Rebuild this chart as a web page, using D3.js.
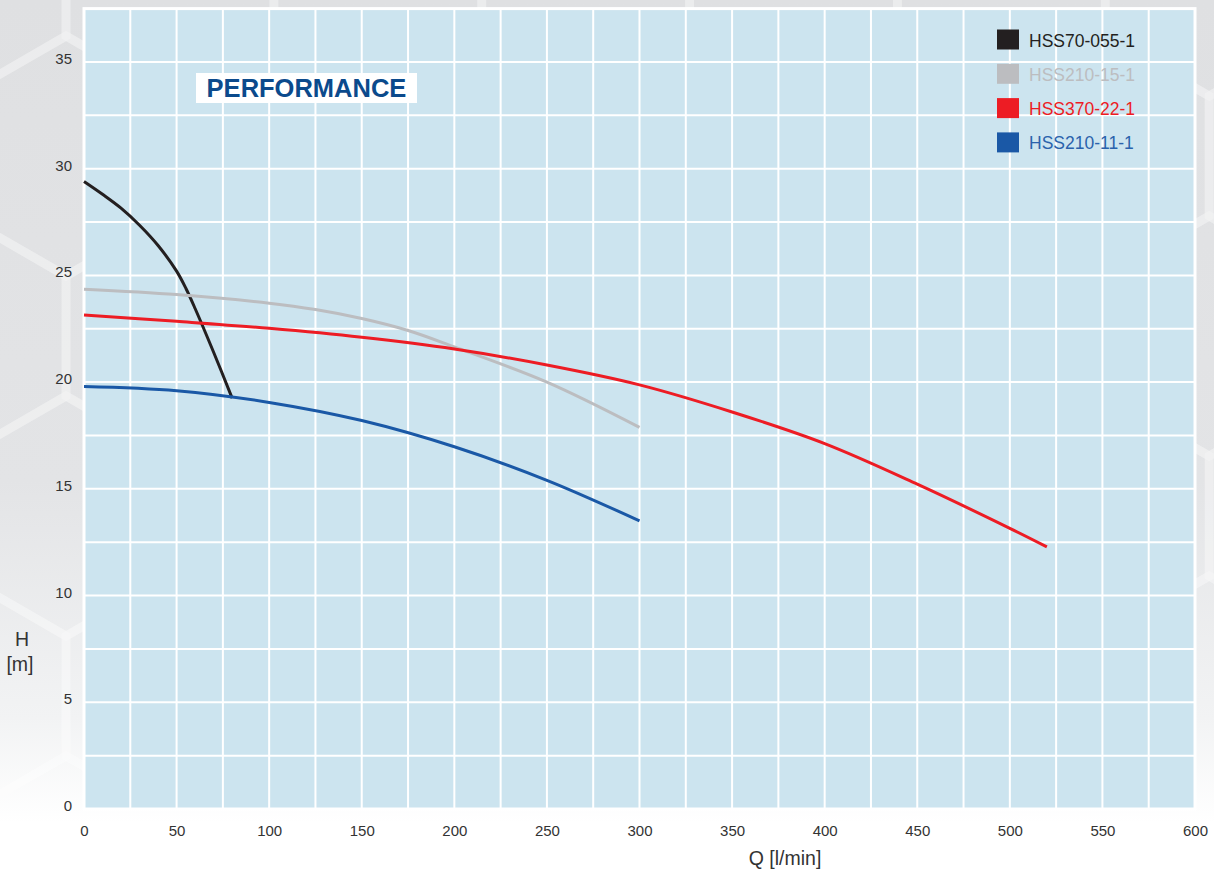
<!DOCTYPE html>
<html>
<head>
<meta charset="utf-8">
<script src="https://cdn.jsdelivr.net/npm/d3@7"></script>
<style>
  html, body { margin: 0; padding: 0; background: #fff; }
  svg { display: block; font-family: "Liberation Sans", Arial, sans-serif; }
</style>
</head>
<body>
<main></main>
<script>
// pump curves: [Q l/min, H m]
const hss70_055 = [[0, 29.4], [10, 28.8], [20, 28.15], [30, 27.35], [40, 26.4], [50, 25.2], [55, 24.4], [60, 23.45], [70, 21.4], [80, 19.25]];
const hss210_15 = [[0, 24.35], [50, 24.1], [100, 23.7], [125, 23.4], [150, 22.98], [175, 22.42], [200, 21.65], [250, 20.0], [300, 17.88]];
const hss370_22 = [[0, 23.15], [50, 22.85], [100, 22.52], [150, 22.1], [200, 21.55], [250, 20.8], [300, 19.87], [350, 18.6], [400, 17.12], [450, 15.22], [500, 13.15], [520, 12.28]];
const hss210_11 = [[0, 19.8], [50, 19.6], [100, 19.05], [150, 18.2], [200, 16.97], [250, 15.4], [300, 13.5]];

const seriesNames = ["HSS70-055-1", "HSS210-15-1", "HSS370-22-1", "HSS210-11-1"];
const seriesColors = ["#231f20", "#bcbdc0", "#ed1c24", "#1a58a6"];
const xTicks = [0, 50, 100, 150, 200, 250, 300, 350, 400, 450, 500, 550, 600];
const yTicks = [0, 5, 10, 15, 20, 25, 30, 35];

let drawChart = (w = 1214, h = 875) => {
	const margin = ({top: 8.6, right: 19, bottom: 66, left: 84});
	const series = [hss70_055, hss210_15, hss370_22, hss210_11];

	let x = d3.scaleLinear()
		.domain([0, 600])
		.range([margin.left, w - margin.right]);

	let y = d3.scaleLinear()
		.domain([0, 37.5])
		.range([h - margin.bottom, margin.top]);

	let svg = d3.select("main")
		.append("svg")
		.attr("width", w)
		.attr("height", h)
		.attr("viewBox", `0 0 ${w} ${h}`);

	// backdrop: grey fading to white with faint hexagons
	let grad = svg.append("defs").append("linearGradient")
		.attr("id", "bg").attr("x1", 0).attr("y1", 0).attr("x2", 0).attr("y2", 1);
	grad.append("stop").attr("offset", "0%").attr("stop-color", "#dfe0e2");
	grad.append("stop").attr("offset", "55%").attr("stop-color", "#e3e4e6");
	grad.append("stop").attr("offset", "82%").attr("stop-color", "#f2f3f4");
	grad.append("stop").attr("offset", "94%").attr("stop-color", "#ffffff");
	svg.append("rect").attr("width", w).attr("height", h).attr("fill", "url(#bg)");

	const s = 120, hw = s * Math.sqrt(3);
	let hexes = [];
	for (let r = -4; r < 3; r++) {
		for (let c = -1; c < 8; c++) {
			let cx = -37.9 + c * hw + (Math.abs(r) % 2 ? hw / 2 : 0);
			let cy = 696 + r * 1.5 * s;
			hexes.push(d3.range(6).map(k => {
				let a = Math.PI / 6 + k * Math.PI / 3;
				return [cx + s * Math.cos(a), cy + s * Math.sin(a)];
			}));
		}
	}
	svg.append("g")
		.selectAll("path")
		.data(hexes)
		.join("path")
			.attr("d", d => "M" + d.join("L") + "Z")
			.attr("fill", "none")
			.attr("stroke", "#ffffff")
			.attr("stroke-opacity", 0.22)
			.attr("stroke-width", 9);

	// plot area
	svg.append("rect")
		.attr("x", x(0)).attr("y", y(37.5))
		.attr("width", x(600) - x(0)).attr("height", y(0) - y(37.5))
		.attr("fill", "#cce4ef")
		.attr("stroke", "#ffffff")
		.attr("stroke-width", 3);

	let grid = svg.append("g").attr("stroke", "#ffffff").attr("stroke-width", 2);
	grid.selectAll(".v")
		.data(d3.range(25, 600, 25))
		.join("line")
			.attr("x1", d => x(d)).attr("x2", d => x(d))
			.attr("y1", y(37.5)).attr("y2", y(0));
	grid.selectAll(".h")
		.data(d3.range(2.5, 37.5, 2.5))
		.join("line")
			.attr("y1", d => y(d)).attr("y2", d => y(d))
			.attr("x1", x(0)).attr("x2", x(600));

	let xAxis = g => { g
		.attr("transform", `translate(0,${h - margin.bottom + 13})`)
		.call(d3.axisBottom(x).tickValues(xTicks).tickSize(0).tickPadding(3))
		.call(g => g.select(".domain").remove())
		.call(g => g.selectAll("text")
			.attr("fill", "#333")
			.attr("font-size", 15)
			.attr("font-family", "Liberation Sans, Arial, sans-serif"))
	};

	let yAxis = g => { g
		.attr("transform", `translate(${margin.left - 12},0)`)
		.call(d3.axisLeft(y).tickValues(yTicks).tickSize(0).tickPadding(0))
		.call(g => g.select(".domain").remove())
		.call(g => g.selectAll("text")
			.attr("fill", "#333")
			.attr("dy", "0.1em")
			.attr("font-size", 15)
			.attr("font-family", "Liberation Sans, Arial, sans-serif"))
	};

	svg.append("g").call(xAxis);
	svg.append("g").call(yAxis);

	svg.append("text")
		.attr("x", 785).attr("y", 865)
		.attr("text-anchor", "middle")
		.attr("font-size", 19.5)
		.attr("fill", "#333")
		.text("Q [l/min]");

	let hLabel = svg.append("text")
		.attr("text-anchor", "middle")
		.attr("font-size", 19.5)
		.attr("fill", "#333");
	hLabel.append("tspan").attr("x", 22).attr("y", 646).text("H");
	hLabel.append("tspan").attr("x", 20).attr("y", 671).text("[m]");

	// title badge
	svg.append("rect")
		.attr("x", 196).attr("y", 73)
		.attr("width", 221).attr("height", 30)
		.attr("fill", "#ffffff");
	svg.append("text")
		.attr("x", 306.5).attr("y", 97)
		.attr("text-anchor", "middle")
		.attr("font-size", 25.5)
		.attr("font-weight", "bold")
		.attr("fill", "#0b4a8c")
		.text("PERFORMANCE");

	// curves
	let line = d3.line()
		.x(d => x(d[0]))
		.y(d => y(d[1]))
		.curve(d3.curveCatmullRom.alpha(0.5));

	svg.append("g")
		.selectAll("path")
		.data(series)
		.join("path")
			.attr("d", line)
			.attr("fill", "none")
			.attr("stroke", (d, i) => seriesColors[i])
			.attr("stroke-width", 3);

	// legend
	let legend = svg.append("g")
		.selectAll("g")
		.data(seriesNames)
		.join("g")
			.attr("transform", (d, i) => `translate(997,${29.5 + i * 34.3})`);

	legend.append("rect")
		.attr("width", 22)
		.attr("height", 20)
		.attr("fill", (d, i) => seriesColors[i]);

	legend.append("text")
		.attr("x", 32)
		.attr("y", 17)
		.attr("font-size", 17.5)
		.attr("fill", (d, i) => i === 3 ? "#2a62ac" : seriesColors[i])
		.text(d => d);
};

drawChart();
</script>
</body>
</html>
